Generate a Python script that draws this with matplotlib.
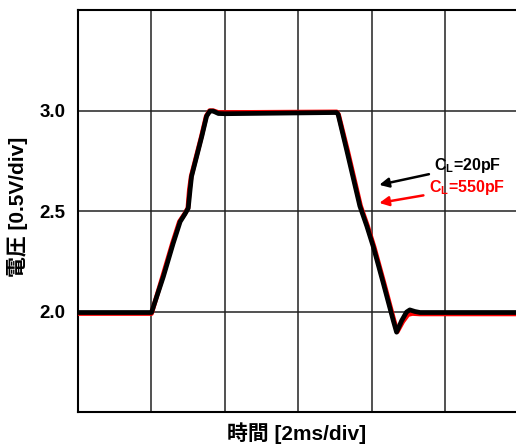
import numpy as np
import matplotlib.pyplot as plt

# time [ms] and voltage [V]
t_20pF = [0.0, 2.0, 2.32, 2.59, 2.78, 2.91, 3.0, 3.05, 3.09, 3.23, 3.37, 3.5, 3.59, 3.68,
          3.82, 4.0, 7.04, 7.08, 7.31, 7.49, 7.67, 7.86, 8.04, 8.31, 8.58, 8.67, 8.81,
          8.94, 9.03, 9.17, 9.31, 12.0]
v_20pF = [1.995, 1.995, 2.172, 2.339, 2.447, 2.485, 2.514, 2.605, 2.672, 2.772, 2.872,
          2.972, 2.997, 2.997, 2.985, 2.984, 2.99, 2.98, 2.805, 2.665, 2.525, 2.425,
          2.32, 2.14, 1.955, 1.897, 1.955, 1.997, 2.008, 2.0, 1.995, 1.995]

t_550pF = [0.0, 2.0, 2.3, 2.57, 2.76, 2.9, 2.99, 3.03, 3.08, 3.22, 3.36, 3.49, 3.58, 3.68,
           3.82, 4.0, 7.04, 7.09, 7.33, 7.51, 7.69, 7.88, 8.06, 8.33, 8.6, 8.69, 8.84,
           8.98, 9.1, 9.3, 12.0]
v_550pF = [1.99, 1.99, 2.172, 2.339, 2.447, 2.485, 2.514, 2.605, 2.672, 2.772, 2.872,
           2.972, 2.999, 2.999, 2.99, 2.99, 2.993, 2.98, 2.805, 2.665, 2.525, 2.425,
           2.32, 2.14, 1.955, 1.9, 1.95, 1.985, 1.99, 1.988, 1.988]

y_ticks = [2.0, 2.5, 3.0]
x_grid = [0, 2, 4, 6, 8, 10]

plt.rcParams['font.family'] = ['Liberation Sans', 'Noto Sans CJK JP']
plt.rcParams['font.weight'] = 'bold'

fig = plt.figure(figsize=(5.16, 4.47), dpi=100)
ax = fig.add_axes([78 / 516, 1 - 412 / 447, 1 - 78 / 516, 402 / 447])

ax.plot(t_550pF, v_550pF, color='red', lw=3.4, zorder=3)
ax.plot(t_20pF, v_20pF, color='black', lw=3.4, zorder=4)

ax.set_xlim(0, 11.92)
ax.set_ylim(1.5, 3.5)
ax.set_xticks(x_grid)
ax.set_xticklabels([])
ax.set_yticks(y_ticks)
ax.set_yticklabels(['2.0', '2.5', '3.0'], fontsize=13.5, fontweight='bold')
ax.tick_params(length=0, pad=9)
ax.grid(True, color='#222222', lw=1.1)
ax.set_axisbelow(True)
for s in ['left', 'top', 'bottom']:
    ax.spines[s].set_linewidth(1.5)
ax.spines['right'].set_visible(False)

fig.text(297 / 516, 1 - 433 / 447, '時間 [2ms/div]', fontsize=15, fontweight='bold',
         ha='center', va='center')
fig.text(18 / 516, 1 - 207 / 447, '電圧 [0.5V/div]', fontsize=15, fontweight='bold',
         ha='center', va='center', rotation=90)

ax.annotate('C$_\\mathregular{L}$=20pF', xy=(8.2, 2.63), xytext=(9.7, 2.725),
            fontsize=11.5, fontweight='bold', color='black', va='center',
            arrowprops=dict(arrowstyle='-|>', color='black', lw=1.8, mutation_scale=14,
                            shrinkA=2, shrinkB=0))
ax.annotate('C$_\\mathregular{L}$=550pF', xy=(8.2, 2.54), xytext=(9.55, 2.615),
            fontsize=11.5, fontweight='bold', color='red', va='center',
            arrowprops=dict(arrowstyle='-|>', color='red', lw=1.8, mutation_scale=14,
                            shrinkA=2, shrinkB=0))

fig.savefig('out.png', dpi=100)
